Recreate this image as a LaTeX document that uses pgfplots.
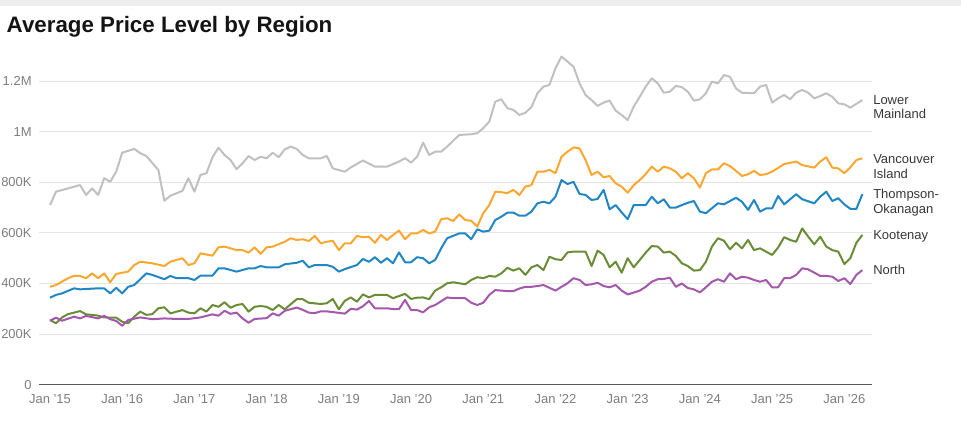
\documentclass[border=0pt]{standalone}
\usepackage{fontspec}
\setmainfont{Liberation Sans}
\usepackage{pgfplots}
\pgfplotsset{compat=1.18}
\definecolor{cGray}{RGB}{192,192,192}
\definecolor{cOrange}{RGB}{250,167,48}
\definecolor{cBlue}{RGB}{32,134,196}
\definecolor{cGreen}{RGB}{106,140,54}
\definecolor{cPurple}{RGB}{164,88,172}
\definecolor{cGrid}{RGB}{228,228,228}
\definecolor{cTick}{RGB}{125,125,125}
\definecolor{cLabel}{RGB}{55,55,55}
\begin{document}
\begin{tikzpicture}
\useasboundingbox (0,0) rectangle (720.75pt,317.25pt);
\fill[black!7] (0,312.75pt) rectangle (720.75pt,317.25pt);
\begin{axis}[
  at={(29.25pt,28.7pt)}, anchor=south west,
  scale only axis, width=624.75pt, height=246.7pt,
  xmin=-1.83, xmax=136.6, ymin=0, ymax=1300,
  axis lines=left, axis line style={-},
  x axis line style={draw=black!65, line width=0.9pt},
  y axis line style={draw=none},
  ytick={0,200,400,600,800,1000,1200},
  yticklabels={0,200K,400K,600K,800K,1M,1.2M},
  xtick={0,12,24,36,48,60,72,84,96,108,120,132},
  xticklabels={Jan '15,Jan '16,Jan '17,Jan '18,Jan '19,Jan '20,Jan '21,Jan '22,Jan '23,Jan '24,Jan '25,Jan '26},
  major tick length=0pt,
  ymajorgrids, grid style={draw=cGrid, line width=0.8pt},
  tick label style={font=\fontsize{9.75}{11}\selectfont, text=cTick},
  xticklabel style={yshift=-4pt},
  yticklabel style={xshift=-2pt},
  clip=false,
  every axis plot/.append style={line width=1.5pt, line join=round, mark=none},
]
\addplot[cGray] coordinates {(0,710)(1,763)(5,789)(6,750)(7,776)(8,750)(9,816)(10,802)(11,842)(12,917)(14,932)(15,915)(16,904)(18,849)(19,727)(20,747)(22,766)(23,816)(24,763)(25,829)(26,836)(27,899)(28,937)(29,908)(30,888)(31,852)(32,875)(33,904)(34,888)(35,901)(36,895)(37,917)(38,899)(39,930)(40,941)(41,932)(42,908)(43,895)(44,895)(45,895)(46,904)(47,855)(49,842)(50,859)(52,886)(54,862)(56,862)(58,882)(59,895)(60,878)(61,901)(62,957)(63,908)(64,921)(65,921)(66,941)(67,964)(68,987)(70,990)(71,994)(72,1014)(73,1040)(74,1119)(75,1128)(76,1093)(77,1086)(78,1066)(79,1075)(80,1097)(81,1152)(82,1178)(83,1185)(84,1251)(85,1297)(86,1277)(87,1257)(88,1191)(89,1145)(90,1125)(91,1102)(92,1115)(93,1123)(94,1083)(95,1066)(96,1046)(97,1099)(98,1138)(99,1178)(100,1211)(101,1191)(102,1154)(103,1158)(104,1181)(105,1176)(106,1158)(107,1123)(108,1128)(109,1152)(110,1198)(111,1191)(112,1224)(113,1217)(114,1171)(115,1154)(117,1152)(118,1178)(119,1185)(120,1115)(121,1132)(122,1145)(123,1128)(124,1154)(125,1165)(126,1154)(127,1132)(128,1141)(129,1152)(130,1138)(131,1112)(132,1108)(133,1095)(134,1110)(135,1125)};
\addplot[cOrange] coordinates {(0,387)(1,394)(3,421)(4,430)(5,430)(6,421)(7,440)(8,421)(9,440)(10,405)(11,438)(13,447)(14,473)(15,486)(17,480)(19,469)(20,486)(22,500)(23,473)(24,480)(25,519)(27,510)(28,543)(29,546)(31,532)(32,532)(33,522)(34,543)(35,517)(36,543)(37,546)(39,565)(40,579)(41,572)(42,575)(43,568)(44,588)(45,559)(46,565)(47,569)(48,532)(49,559)(50,559)(51,588)(52,583)(53,585)(54,561)(55,592)(56,572)(57,592)(58,609)(59,575)(60,598)(61,598)(62,612)(63,598)(64,605)(65,654)(66,658)(67,647)(68,673)(69,651)(70,648)(71,625)(72,678)(73,710)(74,763)(75,761)(76,757)(77,770)(78,750)(79,783)(80,789)(81,842)(82,842)(83,849)(84,836)(85,901)(86,921)(87,938)(88,934)(89,888)(90,829)(91,842)(92,820)(93,825)(94,796)(95,783)(96,759)(97,789)(98,809)(99,833)(100,862)(101,842)(102,862)(103,855)(104,842)(105,816)(106,836)(107,816)(108,779)(109,836)(110,851)(111,851)(112,875)(113,864)(114,845)(115,825)(116,832)(117,845)(118,829)(119,832)(120,842)(122,872)(124,882)(125,868)(127,858)(128,882)(129,899)(130,858)(131,855)(132,836)(133,859)(134,888)(135,895)};
\addplot[cBlue] coordinates {(0,344)(1,355)(2,361)(4,381)(5,377)(8,381)(9,381)(10,361)(11,383)(12,361)(13,387)(14,394)(16,440)(17,434)(19,417)(20,430)(21,421)(23,421)(24,414)(25,431)(27,431)(28,460)(29,460)(31,447)(33,460)(34,460)(35,469)(36,464)(38,464)(39,476)(41,482)(42,490)(43,464)(44,473)(46,473)(47,466)(48,447)(49,457)(51,473)(52,497)(53,486)(54,504)(55,482)(56,500)(57,480)(58,523)(59,484)(60,484)(61,504)(62,500)(63,480)(64,493)(65,539)(66,579)(68,598)(69,598)(70,575)(71,614)(72,605)(73,609)(74,651)(75,664)(76,680)(77,680)(78,668)(79,668)(80,684)(81,717)(82,723)(83,717)(84,743)(85,809)(86,793)(87,802)(88,754)(89,750)(90,730)(91,734)(92,770)(93,693)(94,710)(95,681)(96,654)(97,710)(99,710)(100,743)(101,717)(102,733)(103,700)(104,700)(105,710)(106,719)(107,726)(108,684)(109,678)(111,717)(112,713)(114,739)(115,723)(116,691)(117,730)(118,684)(119,697)(120,697)(121,746)(122,713)(124,753)(125,733)(127,717)(128,743)(129,763)(130,726)(131,737)(132,713)(133,695)(134,695)(135,753)};
\addplot[cGreen] coordinates {(0,256)(1,243)(2,266)(3,279)(5,291)(6,278)(7,276)(8,273)(9,266)(11,265)(12,249)(13,243)(14,269)(15,289)(16,276)(17,279)(18,302)(19,306)(20,282)(22,295)(23,285)(24,282)(25,302)(26,289)(27,315)(28,308)(29,326)(30,304)(31,315)(32,319)(33,289)(34,308)(35,311)(36,308)(37,295)(38,315)(39,298)(40,318)(41,338)(42,338)(43,324)(45,319)(46,322)(47,339)(48,298)(49,332)(50,345)(51,328)(52,357)(53,345)(54,355)(55,355)(56,355)(57,342)(59,359)(60,339)(61,344)(62,345)(63,338)(64,372)(65,385)(66,401)(67,405)(69,397)(70,414)(71,425)(72,421)(73,430)(74,427)(75,440)(76,462)(77,451)(78,460)(79,434)(80,464)(81,473)(82,453)(83,506)(84,496)(85,493)(86,523)(87,526)(89,526)(90,469)(91,530)(92,513)(93,464)(94,486)(95,443)(96,500)(97,464)(98,493)(99,522)(100,548)(101,546)(102,522)(103,526)(104,509)(105,480)(106,469)(107,451)(108,453)(109,486)(110,546)(111,579)(112,569)(113,535)(114,561)(115,539)(116,572)(117,532)(118,539)(120,513)(121,542)(122,583)(123,572)(124,565)(125,618)(126,585)(127,555)(128,585)(129,546)(130,532)(131,526)(132,477)(133,500)(134,561)(135,592)};
\addplot[cPurple] coordinates {(0,253)(1,265)(2,253)(4,269)(5,262)(6,272)(8,262)(9,272)(10,259)(11,252)(12,233)(13,256)(15,266)(17,259)(19,262)(21,260)(23,260)(25,266)(27,278)(28,273)(29,292)(30,280)(31,285)(32,262)(33,245)(34,260)(36,263)(37,282)(38,273)(39,292)(41,305)(42,296)(43,285)(44,283)(45,290)(46,290)(48,284)(49,281)(50,300)(51,297)(52,310)(53,331)(54,302)(56,302)(57,299)(58,299)(59,335)(60,295)(61,295)(62,286)(63,306)(64,315)(66,345)(67,342)(69,342)(70,324)(71,315)(72,324)(73,355)(74,374)(76,370)(77,370)(78,380)(79,387)(80,387)(81,390)(82,394)(83,383)(84,372)(85,387)(86,401)(87,421)(88,414)(89,394)(90,397)(91,403)(92,390)(93,385)(94,394)(95,372)(96,357)(97,364)(98,372)(99,387)(100,407)(101,417)(102,418)(103,423)(104,387)(105,400)(106,382)(107,377)(108,365)(109,385)(110,407)(111,417)(112,407)(113,440)(114,417)(115,427)(116,423)(117,414)(118,407)(119,414)(120,385)(121,385)(122,421)(123,421)(124,434)(125,460)(126,456)(127,443)(128,430)(129,430)(130,427)(131,410)(132,421)(133,398)(134,434)(135,453)};
\end{axis}
\node[anchor=base west, font=\bfseries\fontsize{16.75}{20}\selectfont, text=black!92] at (1.5pt,292.5pt) {Average Price Level by Region};
\begin{scope}[every node/.style={anchor=west, align=left, inner sep=0pt, font=\fontsize{9.75}{11}\selectfont, text=cLabel}]
\node at (654.75pt,237pt) {Lower\\Mainland};
\node at (654.75pt,192.4pt) {Vancouver\\Island};
\node at (654.75pt,165.4pt) {Thompson-\\Okanagan};
\node at (654.75pt,140.25pt) {Kootenay};
\node at (654.75pt,114.75pt) {North};
\end{scope}
\end{tikzpicture}
\end{document}
